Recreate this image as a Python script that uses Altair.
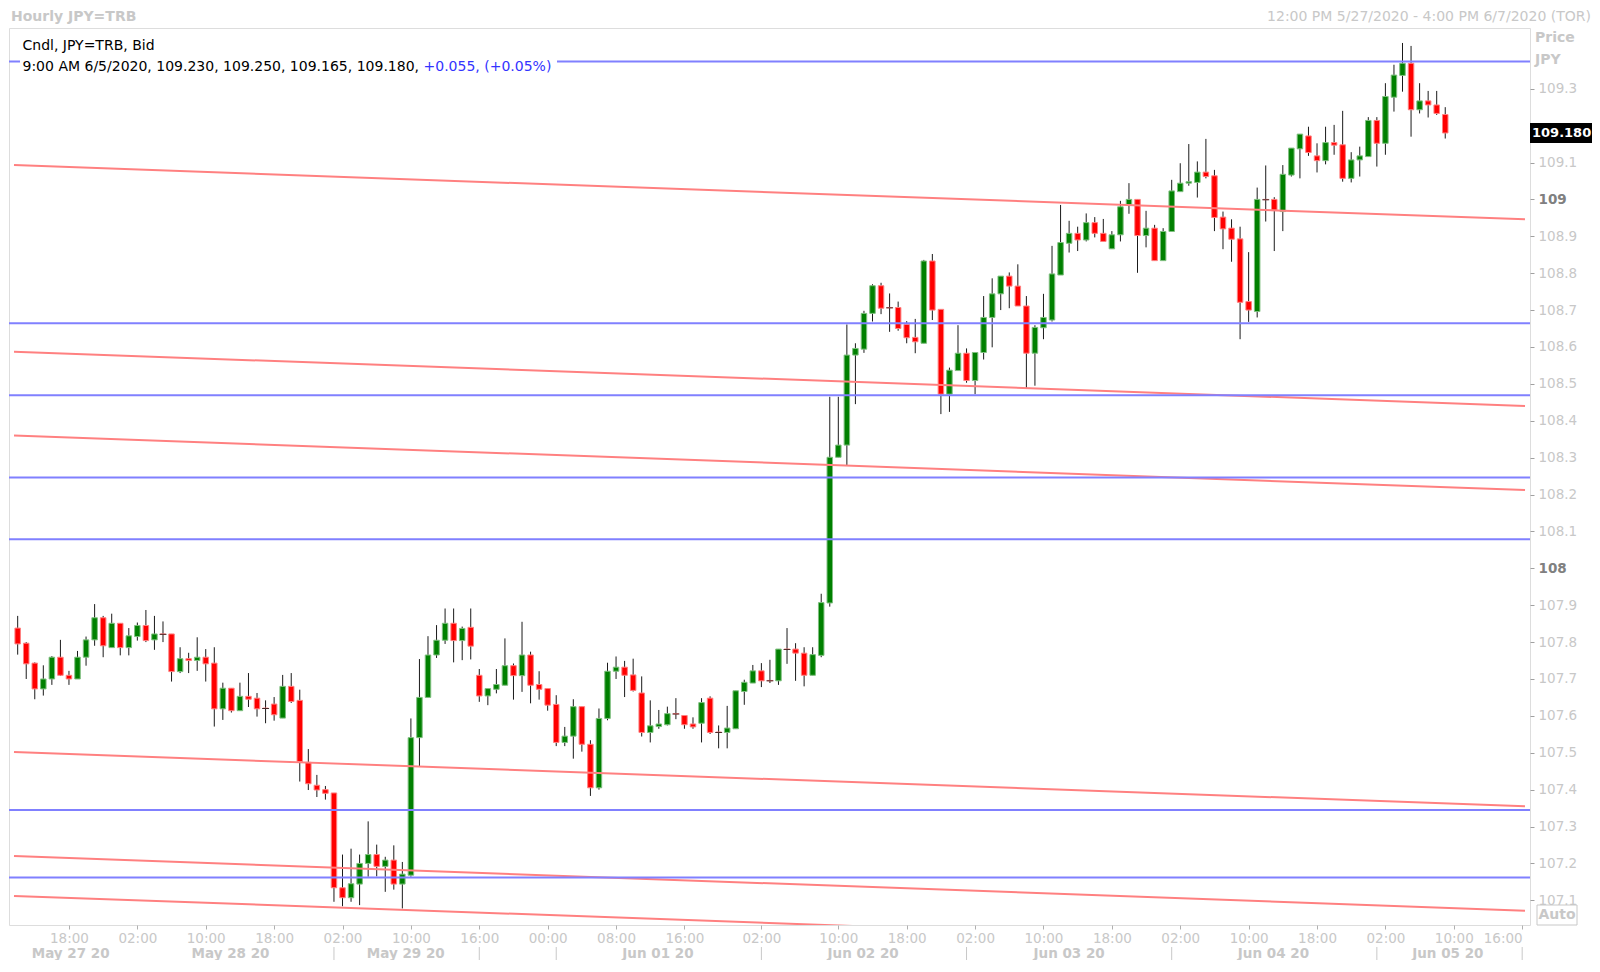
import altair as alt
import pandas as pd

FONT = "DejaVu Sans"

# ---------------- data ----------------
opens = [107.838, 107.797, 107.743, 107.673, 107.700, 107.759, 107.710, 107.700, 107.759, 107.806,
         107.866, 107.785, 107.851, 107.785, 107.815, 107.845, 107.806, 107.822, 107.822, 107.720,
         107.755, 107.750, 107.759, 107.743, 107.619, 107.675, 107.614, 107.653, 107.648, 107.621,
         107.632, 107.594, 107.680, 107.642, 107.474, 107.412, 107.400, 107.391, 107.134, 107.107,
         107.144, 107.200, 107.224, 107.192, 107.209, 107.144, 107.168, 107.541, 107.650, 107.765,
         107.805, 107.851, 107.804, 107.840, 107.710, 107.654, 107.672, 107.683, 107.736, 107.709,
         107.765, 107.685, 107.674, 107.631, 107.528, 107.545, 107.625, 107.523, 107.405, 107.593,
         107.721, 107.732, 107.711, 107.662, 107.555, 107.571, 107.576, 107.606, 107.601, 107.578,
         107.580, 107.648, 107.556, 107.555, 107.565, 107.666, 107.689, 107.722, 107.696, 107.695,
         107.781, 107.781, 107.770, 107.710, 107.764, 107.906, 108.301, 108.334, 108.578, 108.594,
         108.691, 108.766, 108.707, 108.707, 108.661, 108.626, 108.610, 108.833, 108.702, 108.472,
         108.536, 108.583, 108.509, 108.585, 108.680, 108.744, 108.792, 108.765, 108.711, 108.583,
         108.652, 108.673, 108.795, 108.881, 108.908, 108.890, 108.937, 108.908, 108.866, 108.904,
         108.985, 109.000, 108.902, 108.922, 108.834, 108.913, 109.021, 109.044, 109.046, 109.074,
         109.064, 108.952, 108.922, 108.893, 108.723, 108.696, 109.000, 109.000, 108.967, 109.066,
         109.137, 109.172, 109.118, 109.105, 109.154, 109.148, 109.057, 109.107, 109.116, 109.214,
         109.152, 109.277, 109.336, 109.369, 109.243, 109.267, 109.256, 109.230]
highs = [107.871, 107.800, 107.745, 107.737, 107.762, 107.806, 107.722, 107.776, 107.815, 107.903,
         107.871, 107.877, 107.851, 107.838, 107.853, 107.887, 107.871, 107.856, 107.822, 107.786,
         107.771, 107.813, 107.781, 107.786, 107.690, 107.675, 107.690, 107.716, 107.662, 107.642,
         107.651, 107.711, 107.716, 107.671, 107.510, 107.440, 107.410, 107.391, 107.224, 107.240,
         107.224, 107.314, 107.251, 107.218, 107.249, 107.204, 107.593, 107.754, 107.816, 107.846,
         107.891, 107.891, 107.842, 107.891, 107.727, 107.674, 107.727, 107.810, 107.742, 107.855,
         107.774, 107.721, 107.674, 107.656, 107.570, 107.645, 107.625, 107.534, 107.620, 107.744,
         107.761, 107.749, 107.755, 107.707, 107.642, 107.616, 107.625, 107.648, 107.601, 107.596,
         107.648, 107.653, 107.574, 107.627, 107.668, 107.698, 107.738, 107.743, 107.752, 107.781,
         107.838, 107.797, 107.786, 107.786, 107.931, 108.465, 108.465, 108.661, 108.610, 108.698,
         108.770, 108.774, 108.745, 108.723, 108.670, 108.676, 108.836, 108.852, 108.702, 108.544,
         108.659, 108.596, 108.585, 108.738, 108.786, 108.792, 108.802, 108.824, 108.738, 108.659,
         108.744, 108.874, 108.985, 108.942, 108.926, 108.962, 108.952, 108.947, 108.914, 108.996,
         109.044, 109.000, 108.969, 108.931, 108.922, 109.053, 109.098, 109.150, 109.103, 109.164,
         109.080, 108.967, 108.946, 108.926, 108.857, 109.032, 109.092, 109.006, 109.093, 109.139,
         109.177, 109.197, 109.152, 109.197, 109.202, 109.240, 109.128, 109.143, 109.223, 109.223,
         109.315, 109.365, 109.424, 109.416, 109.315, 109.294, 109.294, 109.250]
lows = [107.766, 107.700, 107.645, 107.655, 107.684, 107.708, 107.684, 107.700, 107.736, 107.790,
        107.759, 107.785, 107.764, 107.764, 107.804, 107.800, 107.779, 107.800, 107.693, 107.716,
        107.716, 107.722, 107.693, 107.571, 107.589, 107.609, 107.614, 107.624, 107.598, 107.580,
        107.587, 107.594, 107.635, 107.422, 107.399, 107.380, 107.373, 107.096, 107.084, 107.096,
        107.087, 107.164, 107.165, 107.123, 107.129, 107.078, 107.164, 107.464, 107.650, 107.757,
        107.795, 107.745, 107.751, 107.753, 107.638, 107.629, 107.661, 107.683, 107.644, 107.665,
        107.634, 107.644, 107.614, 107.518, 107.518, 107.484, 107.503, 107.383, 107.400, 107.588,
        107.700, 107.651, 107.666, 107.544, 107.528, 107.565, 107.574, 107.591, 107.565, 107.565,
        107.528, 107.551, 107.512, 107.512, 107.565, 107.630, 107.689, 107.678, 107.689, 107.684,
        107.741, 107.695, 107.680, 107.710, 107.759, 107.896, 108.301, 108.280, 108.445, 108.584,
        108.669, 108.689, 108.641, 108.644, 108.610, 108.583, 108.610, 108.673, 108.418, 108.424,
        108.536, 108.503, 108.472, 108.566, 108.599, 108.700, 108.705, 108.711, 108.488, 108.495,
        108.621, 108.669, 108.795, 108.856, 108.860, 108.886, 108.897, 108.886, 108.866, 108.886,
        108.961, 108.801, 108.870, 108.834, 108.834, 108.913, 109.021, 109.037, 109.005, 109.057,
        108.914, 108.865, 108.831, 108.621, 108.668, 108.680, 108.940, 108.860, 108.914, 109.062,
        109.057, 109.118, 109.073, 109.095, 109.121, 109.048, 109.046, 109.062, 109.116, 109.089,
        109.121, 109.238, 109.292, 109.170, 109.233, 109.222, 109.229, 109.165]
closes = [107.795, 107.741, 107.673, 107.700, 107.759, 107.710, 107.700, 107.759, 107.806, 107.866,
          107.790, 107.851, 107.785, 107.817, 107.845, 107.804, 107.822, 107.821, 107.720, 107.755,
          107.750, 107.759, 107.741, 107.619, 107.675, 107.614, 107.653, 107.645, 107.619, 107.620,
          107.603, 107.680, 107.639, 107.476, 107.416, 107.399, 107.390, 107.134, 107.107, 107.145,
          107.200, 107.224, 107.192, 107.209, 107.144, 107.171, 107.541, 107.650, 107.765, 107.805,
          107.851, 107.804, 107.837, 107.789, 107.654, 107.674, 107.685, 107.736, 107.709, 107.765,
          107.683, 107.672, 107.629, 107.528, 107.545, 107.625, 107.523, 107.405, 107.593, 107.721,
          107.732, 107.710, 107.669, 107.555, 107.573, 107.578, 107.606, 107.605, 107.576, 107.570,
          107.636, 107.555, 107.555, 107.567, 107.668, 107.691, 107.722, 107.695, 107.695, 107.781,
          107.780, 107.770, 107.710, 107.766, 107.907, 108.301, 108.334, 108.578, 108.596, 108.691,
          108.766, 108.705, 108.706, 108.650, 108.625, 108.614, 108.833, 108.700, 108.472, 108.537,
          108.583, 108.509, 108.585, 108.680, 108.744, 108.792, 108.765, 108.711, 108.583, 108.653,
          108.680, 108.798, 108.883, 108.908, 108.890, 108.937, 108.908, 108.886, 108.904, 108.980,
          109.000, 108.902, 108.922, 108.834, 108.913, 109.023, 109.044, 109.048, 109.074, 109.062,
          108.951, 108.920, 108.892, 108.721, 108.700, 109.000, 108.999, 108.971, 109.068, 109.139,
          109.177, 109.127, 109.105, 109.154, 109.147, 109.057, 109.107, 109.118, 109.214, 109.152,
          109.279, 109.337, 109.369, 109.243, 109.267, 109.256, 109.233, 109.180]

hour_tick_slots = [7, 15, 23, 31, 39, 47, 55, 63, 71, 79, 88, 97, 105, 113, 121, 129, 137, 145, 153, 161, 169, 177]
hour_tick_labels = ["18:00", "02:00", "10:00", "18:00", "02:00", "10:00", "16:00", "00:00", "08:00", "16:00",
                    "02:00", "10:00", "18:00", "02:00", "10:00", "18:00", "02:00", "10:00", "18:00", "02:00",
                    "10:00", "16:00"]
date_labels = ["May 27 20", "May 28 20", "May 29 20", "Jun 01 20", "Jun 02 20", "Jun 03 20", "Jun 04 20", "Jun 05 20"]
date_label_slots = [7.2, 25.9, 46.4, 75.9, 99.9, 124.0, 147.9, 168.3]
date_sep_slots = [38, 55, 64, 88, 112, 136, 160, 177]

# 109.2 sits under the last-price box in the reference
price_ticks = [107.1, 107.2, 107.3, 107.4, 107.5, 107.6, 107.7, 107.8, 107.9, 108.0, 108.1, 108.2,
               108.3, 108.4, 108.5, 108.6, 108.7, 108.8, 108.9, 109.0, 109.1, 109.3]

blue_levels = [109.374, 108.664, 108.469, 108.246, 108.079, 107.345, 107.162]
red_left = [109.093, 108.587, 108.360, 107.502, 107.220, 107.112]
red_right = [108.946, 108.440, 108.212, 107.355, 107.072, 106.965]

header_left = "Hourly JPY=TRB"
header_right = "12:00 PM 5/27/2020 - 4:00 PM 6/7/2020 (TOR)"
legend_line1 = "Cndl, JPY=TRB, Bid"
legend_time = "9:00 AM 6/5/2020"
legend_change = "+0.055, (+0.05%)"

# ---------------- layout constants ----------------
W, H = 1521, 897
X_DOMAIN = [0.57, 177.33]
Y_DOMAIN = [107.0331, 109.4646]
GRAY = "#c8c8c8"

xs = alt.Scale(domain=X_DOMAIN, nice=False, zero=False)
ys = alt.Scale(domain=Y_DOMAIN, nice=False, zero=False)

N = len(opens)
df = pd.DataFrame({"slot": list(range(1, N + 1)), "o": opens, "h": highs, "l": lows, "c": closes})
df["dir"] = ["up" if c >= o else "down" for o, c in zip(opens, closes)]

label_expr_x = ("[" + ",".join(f"'{t}'" for t in hour_tick_labels) + "][indexof(["
                + ",".join(str(s) for s in hour_tick_slots) + "], datum.value)]")
is_int = "abs(datum.value - round(datum.value)) < 0.001"
last_tick = hour_tick_slots[-1]

xaxis = alt.Axis(values=hour_tick_slots, labelExpr=label_expr_x, title=None, grid=False, domain=False,
                 tickColor="#b0b0b0", tickSize=4, labelColor=GRAY, labelFont=FONT, labelFontSize=13.5,
                 labelPadding=2, labelOverlap=False, labelFlush=False,
                 labelAlign={"condition": {"test": f"datum.value >= {last_tick}", "value": "right"},
                             "value": "center"})
yaxis = alt.Axis(orient="right", values=price_ticks, title=None, grid=False, domain=False,
                 labelExpr=f"{is_int} ? format(datum.value, 'd') : format(datum.value, '.1f')",
                 tickColor="#a0a0a0", tickSize=4, labelFont=FONT, labelFontSize=13.5, labelPadding=4,
                 labelOverlap=False, labelFlush=False,
                 labelColor={"condition": {"test": is_int, "value": "#808080"}, "value": GRAY},
                 labelFontWeight={"condition": {"test": is_int, "value": "bold"}, "value": "normal"})


def X(field):
    return alt.X(field, scale=xs, axis=xaxis)


def Y(field):
    return alt.Y(field, scale=ys, axis=yaxis)


base = alt.Chart(df)

wicks = base.mark_rule(color="#1a1a1a", strokeWidth=1).encode(x=X("slot:Q"), y=Y("l:Q"), y2="h:Q")
bodies = base.mark_bar(size=5.5, strokeWidth=1).encode(
    x=X("slot:Q"), y=Y("o:Q"), y2="c:Q",
    color=alt.Color("dir:N", scale=alt.Scale(domain=["up", "down"], range=["#008000", "#ff0000"]), legend=None),
    stroke=alt.Stroke("dir:N", scale=alt.Scale(domain=["up", "down"], range=["#7fbf7f", "#ff8080"]), legend=None),
)
doji = base.transform_filter("abs(datum.o - datum.c) < 0.003").mark_tick(
    orient="horizontal", thickness=1, size=7, color="#000000").encode(x=X("slot:Q"), y=Y("c:Q"))

red_rows = []
for i, (a, b) in enumerate(zip(red_left, red_right)):
    red_rows.append({"line": i, "slot": X_DOMAIN[0], "p": a})
    red_rows.append({"line": i, "slot": X_DOMAIN[1], "p": b})
red_lines = alt.Chart(pd.DataFrame(red_rows)).mark_line(color="#ff8080", strokeWidth=2, clip=True).encode(
    x=X("slot:Q"), y=Y("p:Q"), detail="line:N")
blue_lines = alt.Chart(pd.DataFrame({"level": blue_levels})).mark_rule(color="#8080ff", strokeWidth=2).encode(
    y=Y("level:Q"))


def label(text, x, y, size=14, weight="normal", color="#000000", align="left"):
    return alt.Chart(pd.DataFrame({"t": [text]})).mark_text(
        align=align, baseline="middle", font=FONT, fontSize=size, fontWeight=weight, color=color).encode(
        x=alt.value(x), y=alt.value(y), text="t:N")


legend_bg = alt.Chart(pd.DataFrame({"t": [0]})).mark_rect(color="white").encode(
    x=alt.value(11), x2=alt.value(548), y=alt.value(29), y2=alt.value(49))
ohlc_text = f"{legend_time}, {opens[-1]:.3f}, {highs[-1]:.3f}, {lows[-1]:.3f}, {closes[-1]:.3f},"

texts = [
    label(header_left, 2, -11.5, weight="bold", color=GRAY),
    label(header_right, 1582, -11.5, color=GRAY, align="right"),
    label(legend_line1, 13.5, 18),
    label(ohlc_text, 13.5, 39.3),
    label(legend_change, 414.5, 39.3, color="#3333ff"),
    label("Price", 1526, 10.3, weight="bold", color=GRAY),
    label("JPY", 1526, 32, weight="bold", color=GRAY),
]

auto_box = alt.Chart(pd.DataFrame({"t": [0]})).mark_rect(fill="white", stroke=GRAY, strokeWidth=1).encode(
    x=alt.value(1528), x2=alt.value(1568), y=alt.value(877), y2=alt.value(897))
auto_text = label("Auto", 1548, 887, weight="bold", color=GRAY, align="center")

last = pd.DataFrame({"c": [closes[-1]]})
price_box = alt.Chart(last).transform_calculate(top="datum.c + 0.0271", bot="datum.c - 0.0271").mark_rect(
    color="black").encode(x=alt.value(1521), x2=alt.value(1584), y=Y("top:Q"), y2="bot:Q")
price_text = alt.Chart(last).mark_text(align="left", baseline="middle", font=FONT, fontSize=13,
                                       fontWeight="bold", color="white").encode(
    x=alt.value(1523), y=Y("c:Q"), text=alt.Text("c:Q", format=".3f"))

date_seps = alt.Chart(pd.DataFrame({"s": date_sep_slots})).mark_rule(color=GRAY, strokeWidth=1).encode(
    x=X("s:Q"), y=alt.value(H + 22), y2=alt.value(H + 35))
date_text = alt.Chart(pd.DataFrame({"s": date_label_slots, "t": date_labels})).mark_text(
    align="center", baseline="middle", font=FONT, fontSize=13.5, fontWeight="bold", color=GRAY).encode(
    x=X("s:Q"), y=alt.value(H + 29), text="t:N")

chart = alt.layer(
    wicks, bodies, doji, red_lines, blue_lines, legend_bg, *texts,
    auto_box, auto_text, price_box, price_text, date_seps, date_text,
).properties(
    width=W, height=H,
    padding={"left": 1, "top": 20, "right": 62, "bottom": 35},
    autosize=alt.AutoSizeParams(type="none"),
).configure_view(stroke="#8c8c8c", strokeWidth=1.5).configure(background="white")

chart.save("out.html", embed_options={"renderer": "svg", "actions": False})
